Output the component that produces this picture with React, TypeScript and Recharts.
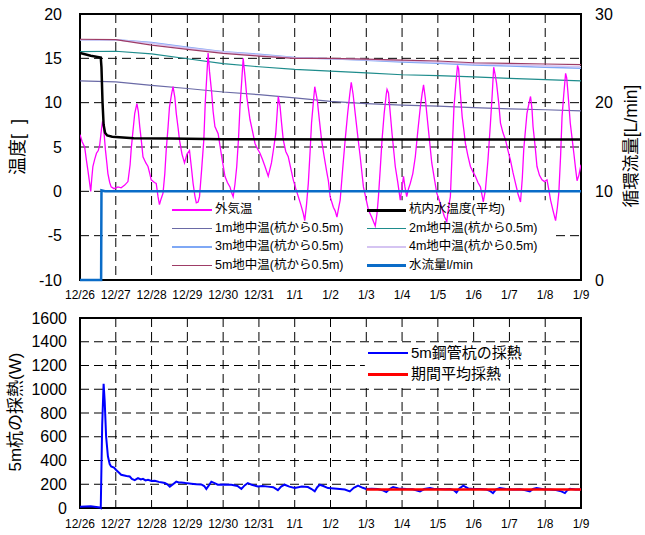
import { LineChart, Line, XAxis, YAxis, CartesianGrid, ReferenceArea } from "recharts";

const FONT = "'Liberation Sans', Arial, 'Noto Sans CJK JP', sans-serif";

const dateLabels = ["12/26", "12/27", "12/28", "12/29", "12/30", "12/31", "1/1", "1/2", "1/3", "1/4", "1/5", "1/6", "1/7", "1/8", "1/9"];
const dayTicks = dateLabels.map((_, i) => i);
const tempTicks = [-10, -5, 0, 5, 10, 15, 20];
const flowTicks = [0, 10, 20, 30];
const heatTicks = [0, 200, 400, 600, 800, 1000, 1200, 1400, 1600];

// [day since 12/26, value]
const outsideTemp: [number, number][] = [
  [0, 6.4], [0.06, 5.6], [0.13, 5.0], [0.18, 3.5], [0.22, 2.4], [0.26, 1.2], [0.3, 0.0], [0.33, 1.5], [0.36, 2.8], [0.41, 3.6],
  [0.46, 4.3], [0.51, 4.6], [0.55, 5.2], [0.6, 7.0], [0.63, 7.9], [0.66, 7.2], [0.71, 4.7], [0.75, 3.2], [0.78, 2.0], [0.83, 1.0],
  [0.87, 0.5], [0.95, 0.3], [1.06, 0.5], [1.15, 0.4], [1.25, 0.7], [1.34, 1.1], [1.4, 3.0], [1.43, 4.7], [1.48, 6.8], [1.53, 8.8],
  [1.59, 9.9], [1.63, 9.0], [1.67, 7.3], [1.72, 5.5], [1.76, 3.9], [1.84, 3.2], [1.9, 2.8], [1.95, 2.0], [1.99, 1.3], [2.08, 1.0],
  [2.13, 0.9], [2.18, -0.6], [2.22, -1.5], [2.27, -0.8], [2.32, -0.2], [2.37, 2.0], [2.41, 4.7], [2.46, 7.2], [2.5, 9.5], [2.56, 11.0],
  [2.6, 11.8], [2.65, 10.6], [2.69, 8.8], [2.74, 7.2], [2.78, 5.8], [2.85, 4.2], [2.92, 3.2], [2.99, 4.2], [3.06, 4.6], [3.11, 2.8],
  [3.16, 0.9], [3.21, -0.5], [3.25, -1.3], [3.3, -1.2], [3.34, -0.6], [3.4, 2.5], [3.46, 5.8], [3.5, 10.0], [3.54, 12.8], [3.58, 15.6],
  [3.62, 13.5], [3.68, 11.1], [3.72, 9.0], [3.77, 7.3], [3.86, 6.5], [3.91, 5.2], [3.96, 3.9], [4.05, 1.7], [4.12, 1.0], [4.19, 0.5],
  [4.24, -0.2], [4.28, -0.6], [4.33, 0.8], [4.38, 2.8], [4.43, 6.0], [4.47, 9.5], [4.52, 12.5], [4.56, 15.0], [4.61, 13.0], [4.66, 10.7],
  [4.75, 8.1], [4.82, 6.8], [4.89, 5.4], [4.96, 4.8], [5.03, 4.3], [5.1, 3.6], [5.17, 2.8], [5.26, 1.7], [5.35, 3.2], [5.41, 4.8],
  [5.47, 6.5], [5.54, 10.7], [5.59, 9.6], [5.63, 7.8], [5.68, 5.8], [5.75, 4.5], [5.82, 3.9], [5.89, 2.6], [5.96, 1.3], [6.03, 0.3],
  [6.1, -0.6], [6.17, -1.5], [6.24, -2.5], [6.28, -3.3], [6.33, -1.5], [6.38, 0.9], [6.43, 4.5], [6.47, 7.7], [6.52, 10.0], [6.56, 11.8],
  [6.63, 10.3], [6.69, 8.0], [6.75, 5.8], [6.82, 4.0], [6.89, 2.3], [6.94, 1.2], [6.99, -0.6], [7.08, -1.8], [7.13, -2.2], [7.18, -2.9],
  [7.23, -1.8], [7.27, -1.0], [7.34, 2.5], [7.41, 5.8], [7.48, 8.8], [7.54, 11.0], [7.58, 12.3], [7.63, 11.0], [7.69, 8.8], [7.76, 6.3],
  [7.83, 3.9], [7.92, 0.5], [7.99, -0.8], [8.06, -2.1], [8.15, -2.9], [8.25, -3.9], [8.3, -2.5], [8.34, -0.6], [8.39, 2.5], [8.44, 5.8],
  [8.5, 8.8], [8.56, 11.0], [8.58, 11.5], [8.62, 11.1], [8.67, 8.8], [8.72, 6.5], [8.81, 2.8], [8.88, 1.0], [8.95, -1.0], [9.04, 1.7],
  [9.08, 0.5], [9.13, -0.6], [9.18, 0.3], [9.23, 0.9], [9.3, 2.0], [9.37, 3.9], [9.44, 6.8], [9.51, 9.5], [9.56, 11.0], [9.6, 12.0],
  [9.65, 10.5], [9.69, 8.8], [9.76, 6.0], [9.83, 3.2], [9.9, 1.5], [9.97, -0.2], [10.04, -1.0], [10.11, -1.9], [10.18, -2.8], [10.25, -3.4],
  [10.3, -1.8], [10.35, -0.6], [10.4, 4.5], [10.45, 9.5], [10.5, 12.0], [10.55, 14.2], [10.58, 13.8], [10.63, 11.0], [10.68, 8.4], [10.73, 6.8],
  [10.77, 5.4], [10.84, 4.0], [10.91, 2.8], [10.98, 2.2], [11.05, 1.7], [11.12, 1.0], [11.19, 0.5], [11.27, -1.2], [11.33, 0.2], [11.4, 3.5],
  [11.47, 7.7], [11.52, 11.0], [11.56, 14.0], [11.6, 13.2], [11.64, 12.2], [11.7, 10.0], [11.75, 7.7], [11.82, 6.6], [11.89, 5.8], [11.96, 4.6],
  [12.03, 3.5], [12.1, 2.1], [12.17, 0.9], [12.24, -0.3], [12.31, -1.2], [12.36, 1.5], [12.4, 4.7], [12.45, 7.0], [12.49, 8.8], [12.55, 10.0],
  [12.59, 10.7], [12.63, 9.3], [12.66, 7.3], [12.72, 5.0], [12.77, 2.8], [12.84, 1.8], [12.91, 1.3], [12.98, 1.1], [13.05, 1.3], [13.1, 0.2],
  [13.15, -1.0], [13.22, -2.2], [13.29, -3.3], [13.34, -1.8], [13.38, -0.2], [13.43, 4.0], [13.47, 8.4], [13.52, 11.0], [13.57, 13.3], [13.6, 12.8],
  [13.63, 11.4], [13.7, 7.7], [13.75, 6.0], [13.8, 4.3], [13.85, 2.5], [13.89, 1.2], [13.94, 1.8], [14.0, 3.0],
];

const pileWaterTemp: [number, number][] = [
  [0, 15.6], [0.3, 15.3], [0.58, 15.1], [0.6, 14.0], [0.63, 10.0], [0.66, 7.5], [0.7, 6.6], [0.76, 6.3], [0.9, 6.15],
  [1.5, 6.0], [2.5, 5.95], [4, 5.87], [8, 5.85], [14, 5.85],
];

const ground1m: [number, number][] = [
  [0, 12.45], [1, 12.35], [2, 11.95], [3, 11.6], [4, 11.2], [5, 10.9], [6, 10.55], [7, 10.15], [8, 9.9], [9, 9.72],
  [10, 9.6], [11, 9.45], [12, 9.3], [13, 9.2], [14, 9.08],
];
const ground2m: [number, number][] = [
  [0, 15.75], [1, 15.8], [2, 15.5], [3, 14.95], [4, 14.4], [5, 14.05], [6, 13.75], [7, 13.55], [8, 13.35], [9, 13.15],
  [10, 13.05], [11, 12.9], [12, 12.75], [13, 12.6], [14, 12.45],
];
const ground3m: [number, number][] = [
  [0, 17.1], [1, 17.1], [2, 16.77], [3, 16.24], [4, 15.75], [5, 15.45], [6, 15.1], [7, 14.95], [8, 14.8], [9, 14.6],
  [10, 14.44], [11, 14.25], [12, 14.14], [13, 13.99], [14, 13.88],
];
const ground4m: [number, number][] = [
  [0, 17.1], [1, 17.1], [2, 16.7], [3, 16.15], [4, 15.7], [5, 15.38], [6, 15.05], [7, 14.95], [8, 14.85], [9, 14.7],
  [10, 14.55], [11, 14.38], [12, 14.27], [13, 14.15], [14, 14.05],
];
const ground5m: [number, number][] = [
  [0, 17.15], [1, 17.1], [2, 16.5], [3, 16.0], [4, 15.57], [5, 15.26], [6, 15.0], [7, 15.0], [8, 14.92], [9, 14.8],
  [10, 14.7], [11, 14.5], [12, 14.44], [13, 14.36], [14, 14.28],
];

const waterFlow: [number, number][] = [[0, 0], [0.59, 0], [0.6, 10.1], [0.7, 10.0], [14, 10.0]];

const heatExtraction: [number, number][] = [
  [0, 10], [0.3, 15], [0.55, 5], [0.58, 0], [0.62, 700], [0.66, 1045], [0.69, 900], [0.73, 600], [0.78, 435], [0.83, 370],
  [0.87, 350], [0.95, 340], [1.01, 320], [1.1, 295], [1.15, 280], [1.3, 270], [1.39, 265], [1.45, 245], [1.53, 235], [1.62, 252],
  [1.7, 240], [1.76, 245], [1.83, 232], [1.9, 238], [2.0, 228], [2.09, 230], [2.2, 220], [2.3, 215], [2.37, 210], [2.44, 200],
  [2.51, 180], [2.6, 200], [2.69, 222], [2.76, 215], [2.83, 215], [2.95, 210], [3.11, 205], [3.25, 200], [3.39, 198], [3.47, 185],
  [3.53, 160], [3.6, 190], [3.67, 222], [3.76, 210], [3.85, 196], [4.0, 198], [4.23, 196], [4.4, 185], [4.51, 160], [4.6, 190],
  [4.69, 210], [4.8, 195], [4.97, 182], [5.1, 185], [5.25, 180], [5.4, 175], [5.53, 150], [5.62, 180], [5.72, 196], [5.85, 180],
  [6.0, 168], [6.2, 180], [6.37, 176], [6.47, 160], [6.56, 140], [6.63, 175], [6.7, 196], [6.8, 185], [6.93, 168], [7.1, 165],
  [7.26, 160], [7.4, 155], [7.54, 140], [7.65, 170], [7.77, 188], [7.9, 170], [8.0, 160], [8.15, 162], [8.32, 160], [8.45, 150],
  [8.56, 135], [8.65, 160], [8.75, 177], [8.9, 165], [9.12, 160], [9.3, 158], [9.5, 140], [9.62, 160], [9.78, 168], [9.9, 160],
  [10.06, 160], [10.2, 158], [10.34, 160], [10.45, 150], [10.52, 131], [10.6, 165], [10.71, 188], [10.85, 165], [10.99, 160], [11.2, 160],
  [11.36, 155], [11.45, 145], [11.54, 126], [11.62, 155], [11.73, 168], [11.9, 160], [12.1, 155], [12.3, 158], [12.45, 150], [12.57, 140],
  [12.66, 160], [12.76, 168], [12.95, 158], [13.13, 155], [13.3, 152], [13.45, 140], [13.55, 126], [13.62, 150], [13.69, 162], [13.85, 155],
  [14.0, 155],
];
const periodAverage: [number, number][] = [[8, 155], [14, 155]];

const pts = (a: [number, number][]) => a.map(([d, v]) => ({ d, v }));

const topLegend = [
  [
    { name: "外気温", color: "#FF00FF", w: 1.5 },
    { name: "1m地中温(杭から0.5m)", color: "#6A6AA6", w: 1.2 },
    { name: "3m地中温(杭から0.5m)", color: "#7FA8F5", w: 2 },
    { name: "5m地中温(杭から0.5m)", color: "#9E3C66", w: 1.2 },
  ],
  [
    { name: "杭内水温度(平均)", color: "#000000", w: 3 },
    { name: "2m地中温(杭から0.5m)", color: "#1E8C8C", w: 1.2 },
    { name: "4m地中温(杭から0.5m)", color: "#D5C4F2", w: 2 },
    { name: "水流量l/min", color: "#0A6CC8", w: 3 },
  ],
];
const bottomLegend = [
  { name: "5m鋼管杭の採熱", color: "#0000FF", w: 2 },
  { name: "期間平均採熱", color: "#FF0000", w: 2.5 },
];

const tick16 = { fontSize: 16, fill: "#000", fontFamily: FONT };
const tick12 = { fontSize: 12, fill: "#000", fontFamily: FONT };
const grid = { stroke: "#000", strokeDasharray: "9 5", strokeWidth: 1 };

function LegendRow({ name, color, w, lineLeft, textLeft, top, fontSize }: any) {
  return (
    <>
      <div style={{ position: "absolute", left: lineLeft, top: top - w / 2, width: textLeft - lineLeft - 3, height: w, background: color }} />
      <div style={{ position: "absolute", left: textLeft, top: top - fontSize * 0.62, fontSize, lineHeight: `${fontSize * 1.2}px`, whiteSpace: "nowrap", fontFamily: FONT }}>{name}</div>
    </>
  );
}

function VTitle({ text, cx, cy, size }: { text: string; cx: number; cy: number; size: number }) {
  return (
    <div style={{ position: "absolute", left: cx, top: cy, transform: "translate(-50%, -50%) rotate(-90deg)", whiteSpace: "pre", fontSize: size, lineHeight: 1, fontFamily: FONT }}>
      {text}
    </div>
  );
}

export default function App() {
  return (
    <div style={{ position: "absolute", left: 0, top: 0, width: 645, height: 535, background: "#fff", overflow: "hidden" }}>
      <div style={{ position: "absolute", left: 0, top: 0 }}>
        <LineChart width={645} height={312} margin={{ top: 14, right: 0, left: 0, bottom: 0 }}>
          <CartesianGrid yAxisId="left" {...grid} />
          <XAxis dataKey="d" type="number" domain={[0, 14]} ticks={dayTicks} tickFormatter={(d) => dateLabels[d]} height={32}
            tickSize={0} tickMargin={10} axisLine={false} tick={tick12} interval={0} allowDataOverflow />
          <YAxis yAxisId="left" type="number" domain={[-10, 20]} ticks={tempTicks} width={80} tickSize={0} tickMargin={18}
            axisLine={false} tick={tick16} interval={0} />
          <YAxis yAxisId="right" orientation="right" type="number" domain={[0, 30]} ticks={flowTicks} width={64} tickSize={0}
            tickMargin={14} axisLine={false} tick={tick16} interval={0} />
          <ReferenceArea yAxisId="left" x1={2.32} x2={13.27} y1={-9.6} y2={-1.0} fill="#fff" fillOpacity={1} stroke="none" />
          <Line yAxisId="left" data={pts(ground1m)} dataKey="v" stroke="#6A6AA6" strokeWidth={1.2} dot={false} isAnimationActive={false} />
          <Line yAxisId="left" data={pts(ground2m)} dataKey="v" stroke="#1E8C8C" strokeWidth={1.2} dot={false} isAnimationActive={false} />
          <Line yAxisId="left" data={pts(ground3m)} dataKey="v" stroke="#7FA8F5" strokeWidth={1.6} dot={false} isAnimationActive={false} />
          <Line yAxisId="left" data={pts(ground4m)} dataKey="v" stroke="#D5C4F2" strokeWidth={1.6} dot={false} isAnimationActive={false} />
          <Line yAxisId="left" data={pts(ground5m)} dataKey="v" stroke="#9E3C66" strokeWidth={1.2} dot={false} isAnimationActive={false} />
          <Line yAxisId="left" data={pts(outsideTemp)} dataKey="v" stroke="#FF00FF" strokeWidth={1.3} dot={false} isAnimationActive={false} />
          <Line yAxisId="left" data={pts(pileWaterTemp)} dataKey="v" stroke="#000" strokeWidth={2.5} dot={false} isAnimationActive={false} />
          <Line yAxisId="right" data={pts(waterFlow)} dataKey="v" stroke="#0A6CC8" strokeWidth={2.5} dot={false} isAnimationActive={false} />
          <ReferenceArea yAxisId="left" x1={0} x2={14} y1={-10} y2={20} fill="none" stroke="#000" strokeWidth={2} />
        </LineChart>
      </div>
      {topLegend[0].map((it, i) => (
        <LegendRow key={"a" + i} {...it} lineLeft={172} textLeft={215} top={210 + i * 18.6} fontSize={12.5} />
      ))}
      {topLegend[1].map((it, i) => (
        <LegendRow key={"b" + i} {...it} lineLeft={367} textLeft={409} top={210 + i * 18.6} fontSize={12.5} />
      ))}
      <VTitle text="温度[  ]" cx={18} cy={147} size={18} />
      <VTitle text="循環流量[L/min]" cx={632} cy={146} size={17.5} />

      <div style={{ position: "absolute", left: 0, top: 300 }}>
        <LineChart width={645} height={235} margin={{ top: 18, right: 64, left: 0, bottom: 0 }}>
          <CartesianGrid {...grid} />
          <XAxis dataKey="d" type="number" domain={[0, 14]} ticks={dayTicks} tickFormatter={(d) => dateLabels[d]} height={27}
            tickSize={0} tickMargin={11} axisLine={false} tick={tick12} interval={0} allowDataOverflow />
          <YAxis type="number" domain={[0, 1600]} ticks={heatTicks} width={80} tickSize={0} tickMargin={13}
            axisLine={false} tick={tick16} interval={0} />
          <ReferenceArea x1={7.96} x2={11.9} y1={1040} y2={1390} fill="#fff" fillOpacity={1} stroke="none" />
          <Line data={pts(heatExtraction)} dataKey="v" stroke="#0000FF" strokeWidth={2} dot={false} isAnimationActive={false} />
          <Line data={pts(periodAverage)} dataKey="v" stroke="#FF0000" strokeWidth={2.5} dot={false} isAnimationActive={false} />
          <ReferenceArea x1={0} x2={14} y1={0} y2={1600} fill="none" stroke="#000" strokeWidth={2} />
        </LineChart>
      </div>
      {bottomLegend.map((it, i) => (
        <LegendRow key={"c" + i} {...it} lineLeft={368} textLeft={411} top={353 + i * 21.5} fontSize={15} />
      ))}
      <VTitle text="5m杭の採熱(W)" cx={15} cy={412} size={17} />
    </div>
  );
}
